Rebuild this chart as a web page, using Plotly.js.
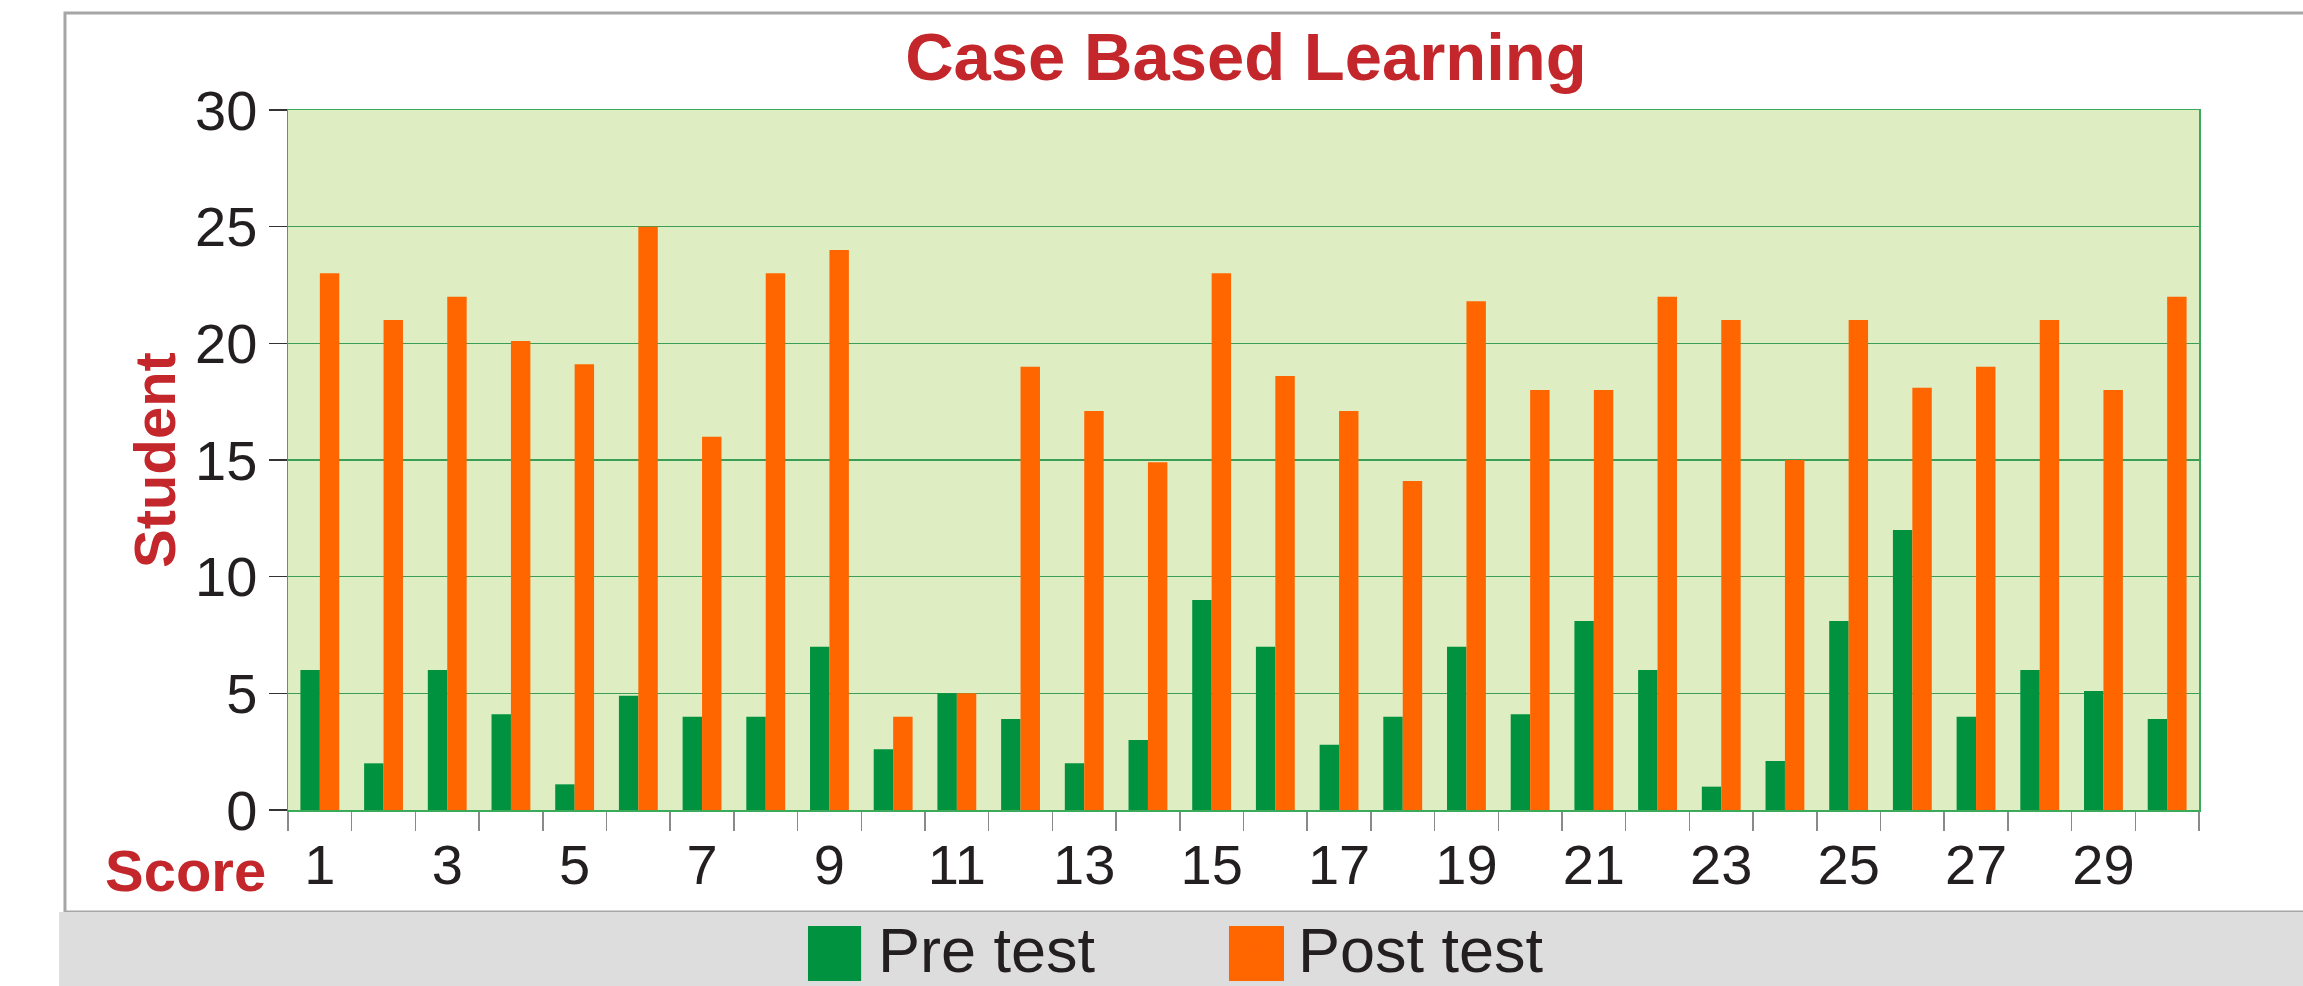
<!DOCTYPE html>
<html>
<head>
<meta charset="utf-8">
<script src="https://cdn.plot.ly/plotly-3.0.1.min.js"></script>
<style>html,body{margin:0;padding:0;background:#fff;}#chart{width:2303px;height:986px;}</style>
</head>
<body>
<div id="chart"></div>
<script>
// ---- data ----
var scores = [1,2,3,4,5,6,7,8,9,10,11,12,13,14,15,16,17,18,19,20,21,22,23,24,25,26,27,28,29,30];
var preTest  = [6, 2, 6, 4.1, 1.1, 4.9, 4, 4, 7, 2.6, 5, 3.9, 2, 3, 9, 7, 2.8, 4, 7, 4.1, 8.1, 6, 1, 2.1, 8.1, 12, 4, 6, 5.1, 3.9];
var postTest = [23, 21, 22, 20.1, 19.1, 25, 16, 23, 24, 4, 5, 19, 17.1, 14.9, 23, 18.6, 17.1, 14.1, 21.8, 18, 18, 22, 21, 15, 21, 18.1, 19, 21, 18, 22];
var xTickVals = [1,3,5,7,9,11,13,15,17,19,21,23,25,27,29];
var xTickText = ['1','3','5','7','9','11','13','15','17','19','21','23','25','27','29'];
var yTickVals = [0,5,10,15,20,25,30];
var seriesNames = ['Pre test', 'Post test'];

var FONT = 'Liberation Sans, Arial, Helvetica, sans-serif';
var RED = '#C3272B';
var GREEN = '#00923F';
var ORANGE = '#FF6600';

var traces = [
  {type:'bar', name:seriesNames[0], x:scores, y:preTest, marker:{color:GREEN}},
  {type:'bar', name:seriesNames[1], x:scores, y:postTest, marker:{color:ORANGE}}
];

var layout = {
  width:2303, height:986,
  margin:{l:288, r:104, t:110, b:176, pad:0, autoexpand:false},
  paper_bgcolor:'#ffffff',
  plot_bgcolor:'#DFEDC3',
  barmode:'group', bargap:0.39, bargroupgap:0,
  font:{family:FONT, color:'#231F20'},
  title:{text:'<b>Case Based Learning</b>', font:{family:FONT, size:67, color:RED},
         x:0.541, xref:'container', xanchor:'center', y:0.943, yref:'container', yanchor:'middle'},
  xaxis:{
    type:'linear', range:[0.5,30.5], fixedrange:true,
    tickmode:'array', tickvals:xTickVals, ticktext:xTickText,
    ticks:'', tickfont:{size:56, color:'#231F20'}, ticklabelstandoff:5,
    showgrid:false, zeroline:false,
    showline:true, linecolor:'#3BAA5A', linewidth:1.5, mirror:true,
    minor:{tickmode:'linear', tick0:0.5, dtick:1, ticks:'outside', ticklen:19, tickwidth:1.5, tickcolor:'#8A8A8A', showgrid:false}
  },
  yaxis:{
    range:[0,30], fixedrange:true,
    tickmode:'array', tickvals:yTickVals,
    ticks:'outside', ticklen:18, tickwidth:1.5, tickcolor:'#333333',
    tickfont:{size:56, color:'#231F20'}, ticklabelstandoff:0,
    showgrid:true, gridcolor:'#3A9F55', gridwidth:1.5, zeroline:false,
    showline:true, linecolor:'#3BAA5A', linewidth:1.5, mirror:true,
    title:{text:'<b>Student</b>', font:{family:FONT, size:58, color:RED}, standoff:0}
  },
  showlegend:true,
  legend:{orientation:'h', x:0.2637, xanchor:'left', y:-0.196, yanchor:'middle',
          font:{family:FONT, size:63, color:'#231F20'}, bgcolor:'rgba(0,0,0,0)',
          itemwidth:76, entrywidth:329, entrywidthmode:'pixels', traceorder:'normal'},
  shapes:[
    {type:'rect', xref:'paper', yref:'paper', x0:-0.1167, x1:1.07, y0:-0.1457, y1:1.1386,
     line:{color:'#A6A6A6', width:3}, fillcolor:'rgba(0,0,0,0)', layer:'above'},
    {type:'rect', xref:'paper', yref:'paper', x0:-0.1198, x1:1.07, y0:-0.27, y1:-0.1457,
     line:{width:0}, fillcolor:'#DDDDDD', layer:'above'},
    {type:'rect', xref:'paper', yref:'paper', x0:0.2721, x1:0.2999, y0:-0.2443, y1:-0.1657,
     line:{width:0}, fillcolor:GREEN, layer:'above'},
    {type:'rect', xref:'paper', yref:'paper', x0:0.4924, x1:0.5212, y0:-0.2443, y1:-0.1657,
     line:{width:0}, fillcolor:ORANGE, layer:'above'}
  ],
  annotations:[
    {text:'<b>Score</b>', xref:'paper', yref:'paper', x:-0.0968, xanchor:'left', y:-0.0871, yanchor:'middle',
     showarrow:false, font:{family:FONT, size:58, color:RED}}
  ]
};

Plotly.newPlot('chart', traces, layout, {displayModeBar:false, staticPlot:true});
</script>
</body>
</html>
